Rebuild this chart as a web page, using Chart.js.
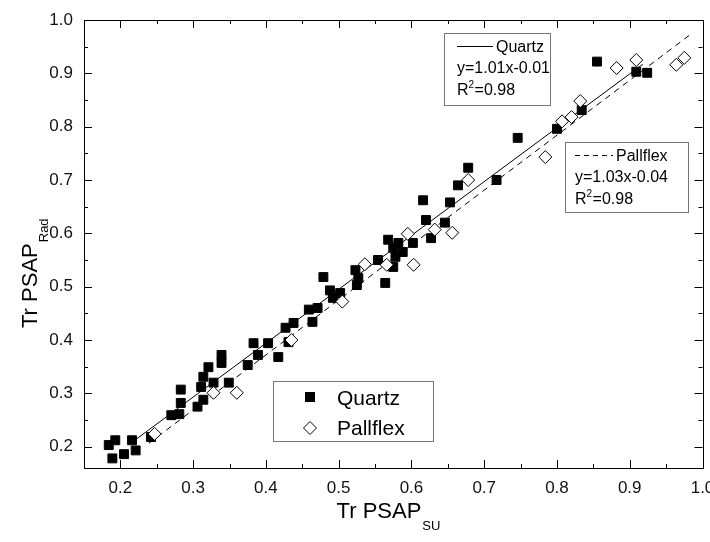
<!DOCTYPE html>
<html>
<head>
<meta charset="utf-8">
<script src="https://cdn.jsdelivr.net/npm/chart.js@4/dist/chart.umd.min.js"></script>
<style>
  html, body { margin: 0; padding: 0; background: #fff; }
  #wrap { width: 710px; height: 542px; }
</style>
</head>
<body>
<div id="wrap"><canvas id="c" width="710" height="542"></canvas></div>
<script>
// Transmission measured by the PSAP (SU) vs radiation-based PSAP, two filter types
const quartzX = [0.184, 0.193, 0.189, 0.205, 0.216, 0.221, 0.242, 0.270, 0.281, 0.283,
                 0.283, 0.306, 0.314, 0.311, 0.314, 0.321, 0.328, 0.339, 0.339, 0.349,
                 0.375, 0.383, 0.389, 0.403, 0.417, 0.431, 0.427, 0.438, 0.464, 0.459,
                 0.471, 0.479, 0.488, 0.492, 0.502, 0.523, 0.527, 0.525, 0.554, 0.564,
                 0.568, 0.575, 0.582, 0.578, 0.588, 0.575, 0.602, 0.616, 0.620, 0.627,
                 0.646, 0.653, 0.664, 0.678, 0.717, 0.746, 0.800, 0.834, 0.855, 0.909,
                 0.924];
const quartzY = [0.203, 0.212, 0.178, 0.186, 0.212, 0.193, 0.218, 0.259, 0.261, 0.307,
                 0.282, 0.275, 0.288, 0.312, 0.331, 0.349, 0.320, 0.372, 0.357, 0.320,
                 0.353, 0.394, 0.372, 0.394, 0.368, 0.396, 0.423, 0.432, 0.434, 0.457,
                 0.460, 0.518, 0.493, 0.479, 0.488, 0.531, 0.516, 0.503, 0.550, 0.507,
                 0.588, 0.573, 0.582, 0.556, 0.565, 0.537, 0.582, 0.662, 0.625, 0.591,
                 0.620, 0.658, 0.690, 0.723, 0.700, 0.779, 0.796, 0.831, 0.922, 0.903,
                 0.901];
const pallflexX = [0.247, 0.328, 0.360, 0.435, 0.505, 0.536, 0.566, 0.595, 0.603, 0.632,
                   0.656, 0.678, 0.784, 0.807, 0.820, 0.832, 0.882, 0.909, 0.964, 0.975];
const pallflexY = [0.224, 0.301, 0.301, 0.400, 0.472, 0.542, 0.541, 0.599, 0.541, 0.607,
                   0.601, 0.700, 0.743, 0.810, 0.818, 0.848, 0.910, 0.925, 0.916, 0.929];

// Linear fits (y = a*x + b) and the x range each fit line covers
const fitNames = ['Quartz', 'Pallflex'];
const fitSlopes = [1.01, 1.03];
const fitIntercepts = [-0.01, -0.04];
const fitR2 = ['0.98', '0.98'];
const fitXStart = [0.219, 0.239];
const fitXEnd = [0.918, 0.982];

// Axis tick labels
const xTickValues = [0.2, 0.3, 0.4, 0.5, 0.6, 0.7, 0.8, 0.9, 1.0];
const yTickValues = [0.2, 0.3, 0.4, 0.5, 0.6, 0.7, 0.8, 0.9, 1.0];

const toPoints = (xs, ys) => xs.map((x, i) => ({ x: x, y: ys[i] }));
const fitLine = i => [
  { x: fitXStart[i], y: fitSlopes[i] * fitXStart[i] + fitIntercepts[i] },
  { x: fitXEnd[i],   y: fitSlopes[i] * fitXEnd[i]   + fitIntercepts[i] }
];
const fmtEq = i => 'y=' + fitSlopes[i].toFixed(2) + 'x' +
  (fitIntercepts[i] < 0 ? '-' : '+') + Math.abs(fitIntercepts[i]).toFixed(2);

const FONT = '"Liberation Sans", Arial, sans-serif';

// Frame with inward major/minor ticks on all four sides
const frameTicks = {
  id: 'frameTicks',
  afterDatasetsDraw(chart) {
    const { ctx, chartArea: a, scales: { x, y } } = chart;
    ctx.save();
    ctx.strokeStyle = '#000';
    ctx.lineWidth = 1;
    ctx.strokeRect(Math.round(a.left) + 0.5, Math.round(a.top) + 0.5,
                   Math.round(a.right - a.left), Math.round(a.bottom - a.top));
    ctx.beginPath();
    for (let k = 3; k <= 20; k++) {
      const v = k * 0.05;
      const len = (k % 2 === 0) ? 8 : 4;
      const px = Math.round(x.getPixelForValue(v)) + 0.5;
      if (px > a.left + 1 && px < a.right - 1) {
        ctx.moveTo(px, a.bottom); ctx.lineTo(px, a.bottom - len);
        ctx.moveTo(px, a.top);    ctx.lineTo(px, a.top + len);
      }
      const py = Math.round(y.getPixelForValue(v)) + 0.5;
      if (py > a.top + 1 && py < a.bottom - 1) {
        ctx.moveTo(a.left, py);  ctx.lineTo(a.left + len, py);
        ctx.moveTo(a.right, py); ctx.lineTo(a.right - len, py);
      }
    }
    ctx.stroke();
    ctx.restore();
  }
};

// Axis titles with subscripts, symbol legend and fit-equation boxes
const annotations = {
  id: 'annotations',
  afterDraw(chart) {
    const { ctx } = chart;
    ctx.save();
    ctx.fillStyle = '#000';
    ctx.textBaseline = 'alphabetic';

    // x-axis title
    ctx.font = '22px ' + FONT;
    const main = 'Tr PSAP';
    const wMain = ctx.measureText(main).width;
    ctx.font = '13px ' + FONT;
    const wSub = ctx.measureText('SU').width;
    const sx = 388 - (wMain + wSub) / 2;
    ctx.font = '22px ' + FONT;
    ctx.fillText(main, sx, 518);
    ctx.font = '13px ' + FONT;
    ctx.fillText('SU', sx + wMain + 1, 530);

    // y-axis title
    ctx.save();
    ctx.translate(37, 328);
    ctx.rotate(-Math.PI / 2);
    ctx.font = '22px ' + FONT;
    ctx.fillText(main, 0, 0);
    ctx.font = '13px ' + FONT;
    ctx.fillText('Rad', wMain + 1, 11);
    ctx.restore();

    // symbol legend
    ctx.strokeStyle = '#777';
    ctx.lineWidth = 1;
    ctx.strokeRect(273.5, 381.5, 160, 60);
    ctx.fillStyle = '#000';
    ctx.fillRect(305, 392, 10, 10);
    ctx.beginPath();
    ctx.moveTo(310, 421.5); ctx.lineTo(316.5, 428); ctx.lineTo(310, 434.5); ctx.lineTo(303.5, 428);
    ctx.closePath();
    ctx.fillStyle = '#fff';
    ctx.fill();
    ctx.strokeStyle = '#000';
    ctx.stroke();
    ctx.fillStyle = '#000';
    ctx.font = '21px ' + FONT;
    ctx.fillText('Quartz', 337, 405);
    ctx.fillText('Pallflex', 337, 435);

    // fit boxes
    const boxes = [
      { x: 444, y: 33, w: 106, h: 72, lx0: 457, lx1: 493, ly: 46, dash: [] },
      { x: 565, y: 142, w: 123, h: 70, lx0: 575, lx1: 613, ly: 155, dash: [5, 4] }
    ];
    boxes.forEach((b, i) => {
      ctx.strokeStyle = '#777';
      ctx.setLineDash([]);
      ctx.strokeRect(b.x + 0.5, b.y + 0.5, b.w, b.h);
      ctx.strokeStyle = '#000';
      ctx.setLineDash(b.dash);
      ctx.beginPath();
      ctx.moveTo(b.lx0, b.ly + 0.5); ctx.lineTo(b.lx1, b.ly + 0.5);
      ctx.stroke();
      ctx.setLineDash([]);
      ctx.font = '16px ' + FONT;
      ctx.fillText(fitNames[i], b.lx1 + 3, b.ly + 6);
      ctx.fillText(fmtEq(i), b.lx0, b.ly + 27);
      ctx.fillText('R', b.lx0, b.ly + 49);
      const wR = ctx.measureText('R').width;
      ctx.font = '10px ' + FONT;
      ctx.fillText('2', b.lx0 + wR, b.ly + 42);
      ctx.font = '16px ' + FONT;
      ctx.fillText('=' + fitR2[i], b.lx0 + wR + 6, b.ly + 49);
    });
    ctx.restore();
  }
};

new Chart(document.getElementById('c'), {
  type: 'scatter',
  data: {
    datasets: [
      {
        label: 'Pallflex',
        data: toPoints(pallflexX, pallflexY),
        pointStyle: 'rectRot',
        pointRadius: 6.5,
        pointBackgroundColor: '#fff',
        pointBorderColor: '#000',
        pointBorderWidth: 1,
        order: 1
      },
      {
        label: 'Quartz',
        data: toPoints(quartzX, quartzY),
        pointStyle: 'rect',
        pointRadius: 6.3,
        pointBackgroundColor: '#000',
        pointBorderColor: '#000',
        pointBorderWidth: 1,
        order: 2
      },
      {
        label: 'Quartz fit',
        type: 'line',
        data: fitLine(0),
        borderColor: '#000',
        borderWidth: 1,
        pointRadius: 0,
        fill: false,
        order: 3
      },
      {
        label: 'Pallflex fit',
        type: 'line',
        data: fitLine(1),
        borderColor: '#000',
        borderWidth: 1,
        borderDash: [6, 5],
        pointRadius: 0,
        fill: false,
        order: 4
      }
    ]
  },
  options: {
    responsive: false,
    animation: false,
    events: [],
    layout: { padding: { top: 20, right: 7, left: 0, bottom: 0 } },
    plugins: { legend: { display: false }, tooltip: { enabled: false } },
    scales: {
      x: {
        type: 'linear',
        min: 0.15,
        max: 1.0,
        afterBuildTicks: s => { s.ticks = xTickValues.map(v => ({ value: v })); },
        afterFit: s => { s.height = 74; s.paddingLeft = 0; s.paddingRight = 0; },
        grid: { display: false, drawTicks: false },
        border: { display: false },
        ticks: {
          padding: 10,
          color: '#111',
          font: { family: FONT, size: 17 },
          callback: v => v.toFixed(1)
        }
      },
      y: {
        type: 'linear',
        min: 0.16,
        max: 1.0,
        afterBuildTicks: s => { s.ticks = yTickValues.map(v => ({ value: v })); },
        afterFit: s => { s.width = 84; s.paddingTop = 0; s.paddingBottom = 0; },
        grid: { display: false, drawTicks: false },
        border: { display: false },
        ticks: {
          padding: 11,
          color: '#111',
          font: { family: FONT, size: 17 },
          callback: v => v.toFixed(1)
        }
      }
    }
  },
  plugins: [frameTicks, annotations]
});
</script>
</body>
</html>
